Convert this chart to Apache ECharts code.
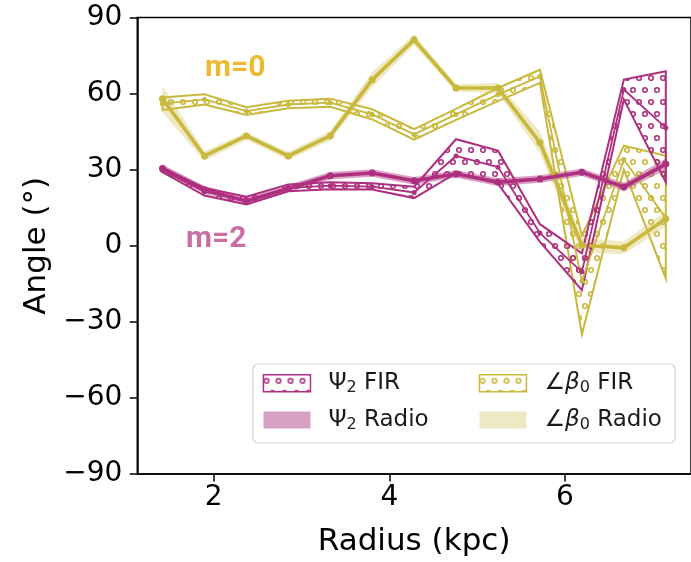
<!DOCTYPE html>
<html>
<head>
<meta charset="utf-8">
<script src="https://cdn.jsdelivr.net/npm/echarts@6/dist/echarts.min.js"></script>
<style>
  html, body { margin: 0; padding: 0; background: #fff; }
  #chart { width: 691px; height: 562px; }
</style>
</head>
<body>
<div id="chart"></div>
<script>
// Galactocentric radius of each ring (kpc)
const radius = [1.416, 1.894, 2.372, 2.849, 3.327, 3.805, 4.283, 4.760, 5.238, 5.716, 6.194, 6.672, 7.150];

// Psi_2 (m=2) from FIR: best value and lower/upper bounds (deg)
const psiFir   = [29.8, 21.3, 17.8, 22.8, 23.7, 23.3, 21.0, 35.4, 31.0, 5.0, -10.3, 61.6, 46.5];
const psiFirLo = [29.0, 19.8, 16.3, 21.5, 22.3, 22.2, 18.8, 28.6, 24.5, 1.5, -17.5, 57.7, 25.0];
const psiFirHi = [30.6, 22.8, 19.3, 24.2, 25.0, 24.6, 23.3, 42.0, 37.5, 8.5, -3.0, 65.5, 68.8];

// Psi_2 (m=2) from radio
const psiRad   = [30.5, 22.1, 17.6, 22.6, 27.6, 28.7, 25.6, 28.3, 25.1, 26.3, 29.0, 23.2, 32.2];
const psiRadLo = [29.0, 20.6, 16.1, 21.1, 26.1, 27.2, 24.1, 26.8, 23.6, 24.8, 27.5, 21.6, 30.0];
const psiRadHi = [32.0, 23.6, 19.1, 24.1, 29.1, 30.2, 27.1, 29.8, 26.6, 27.8, 30.5, 24.8, 34.4];

// angle of beta_0 (m=0) from FIR
const betaFir   = [56.0, 57.7, 53.1, 55.7, 56.4, 51.8, 43.9, 51.8, 59.6, 66.8, -14.0, 34.0, 11.0];
const betaFirLo = [53.5, 55.7, 51.6, 54.2, 54.8, 49.8, 41.8, 49.6, 57.0, 64.2, -35.0, 30.0, -13.0];
const betaFirHi = [58.5, 59.7, 54.6, 57.2, 58.0, 53.8, 46.0, 54.0, 62.2, 69.4, 4.0, 39.5, 35.5];

// angle of beta_0 (m=0) from radio
const betaRad   = [58.0, 35.4, 43.3, 35.4, 43.3, 65.5, 81.2, 62.2, 62.2, 40.7, 0.2, -0.8, 10.6];
const betaRadLo = [52.5, 33.5, 41.8, 33.8, 41.5, 62.5, 79.2, 60.7, 60.2, 36.5, -2.8, -3.3, 7.6];
const betaRadHi = [63.0, 37.3, 44.8, 37.0, 45.2, 68.5, 83.2, 63.7, 64.2, 45.0, 3.2, 1.7, 13.6];

const xTicks = [2, 4, 6];

const MAGENTA = '#AE2F7F';
const OLIVE = '#C8B83C';

// small tile of circles used as the 'o' hatch of the FIR bands
function hatchTile(color) {
  const c = document.createElement('canvas');
  c.width = 12; c.height = 24;
  const ctx = c.getContext('2d');
  ctx.strokeStyle = color;
  ctx.lineWidth = 1.6;
  [[3, 6], [9, 18]].forEach(function (p) {
    ctx.beginPath();
    ctx.arc(p[0], p[1], 2.3, 0, Math.PI * 2);
    ctx.stroke();
  });
  return c;
}
const psiHatch = { image: hatchTile(MAGENTA), repeat: 'repeat' };
const betaHatch = { image: hatchTile(OLIVE), repeat: 'repeat' };

// one filled polygon between the lower and upper bound curves
function bandSeries(name, lo, hi, style) {
  return {
    type: 'custom',
    name: name,
    silent: true,
    coordinateSystem: 'cartesian2d',
    data: radius.map(function (r, i) { return [r, lo[i], hi[i]]; }),
    encode: { x: 0, y: [1, 2] },
    renderItem: function (params, api) {
      if (params.dataIndex !== 0) return null;
      const pts = [];
      for (let i = 0; i < radius.length; i++) pts.push(api.coord([radius[i], hi[i]]));
      for (let i = radius.length - 1; i >= 0; i--) pts.push(api.coord([radius[i], lo[i]]));
      return { type: 'polygon', shape: { points: pts }, style: style };
    }
  };
}

function lineSeries(name, vals, color, width, size) {
  return {
    type: 'line',
    name: name,
    silent: true,
    data: radius.map(function (r, i) { return [r, vals[i]]; }),
    symbol: 'circle',
    symbolSize: size,
    showSymbol: true,
    itemStyle: { color: color },
    lineStyle: { color: color, width: width }
  };
}

const sub = { fontSize: 16, lineHeight: 14, verticalAlign: 'bottom', fontFamily: 'DejaVu Sans' };
const legendText = {
  fontFamily: 'DejaVu Sans',
  fontSize: 23,
  lineHeight: 26,
  color: '#1a1a1a',
  padding: [0, 0, 0, 13],
  rich: {
    t: { fontSize: 23, lineHeight: 26, fontFamily: 'DejaVu Sans', color: '#1a1a1a' },
    b: { fontSize: 23, lineHeight: 26, fontFamily: 'DejaVu Sans', fontStyle: 'italic', color: '#1a1a1a' },
    s: Object.assign({ color: '#1a1a1a' }, sub)
  }
};
const legendLabels = {
  'Ψ2 FIR': '{t|Ψ}{s|2}{t| FIR}',
  'Ψ2 Radio': '{t|Ψ}{s|2}{t| Radio}',
  '∠β0 FIR': '{t|∠}{b|β}{s|0}{t| FIR}',
  '∠β0 Radio': '{t|∠}{b|β}{s|0}{t| Radio}'
};
function fmtLegend(name) { return legendLabels[name]; }

const chart = echarts.init(document.getElementById('chart'), null, { renderer: 'canvas' });

chart.setOption({
  animation: false,
  backgroundColor: '#ffffff',
  grid: {
    left: 137.3, top: 17.5, width: 561.4, height: 459.2,
    show: true, borderColor: '#000', borderWidth: 1.5, backgroundColor: 'transparent'
  },
  xAxis: {
    type: 'value',
    min: 1.129, max: 7.437,
    name: 'Radius (kpc)',
    nameLocation: 'middle',
    nameGap: 52,
    nameTextStyle: { fontFamily: 'DejaVu Sans', fontSize: 31, color: '#000' },
    axisLine: { show: true, onZero: false, lineStyle: { color: '#000', width: 1.5 } },
    axisTick: { show: true, length: 7.5, lineStyle: { color: '#000', width: 1.5 }, customValues: xTicks },
    axisLabel: { margin: 10, fontFamily: 'DejaVu Sans', fontSize: 28, color: '#000', customValues: xTicks },
    splitLine: { show: false }
  },
  yAxis: {
    type: 'value',
    min: -90, max: 90, interval: 30,
    name: 'Angle (°)',
    nameLocation: 'middle',
    nameGap: 84,
    nameTextStyle: { fontFamily: 'DejaVu Sans', fontSize: 31, color: '#000' },
    axisLine: { show: true, onZero: false, lineStyle: { color: '#000', width: 1.5 } },
    axisTick: { show: true, length: 7.5, lineStyle: { color: '#000', width: 1.5 } },
    axisLabel: {
      margin: 15, fontFamily: 'DejaVu Sans', fontSize: 28, color: '#000',
      formatter: function (v) { return v < 0 ? '\u2212' + (-v) : String(v); }
    },
    splitLine: { show: false }
  },
  legend: [
    {
      orient: 'vertical', left: 262.7, top: 370.3, padding: 0,
      itemWidth: 47, itemHeight: 17, itemGap: 10.7,
      selectedMode: false,
      textStyle: legendText, formatter: fmtLegend,
      data: [
        { name: 'Ψ2 FIR', icon: 'rect', itemStyle: { color: psiHatch, borderColor: MAGENTA, borderWidth: 1.5 } },
        { name: 'Ψ2 Radio', icon: 'rect', itemStyle: { color: '#D6A0C2', borderWidth: 0 } }
      ]
    },
    {
      orient: 'vertical', left: 478.7, top: 370.3, padding: 0,
      itemWidth: 47, itemHeight: 17, itemGap: 10.7,
      selectedMode: false,
      textStyle: legendText, formatter: fmtLegend,
      data: [
        { name: '∠β0 FIR', icon: 'rect', itemStyle: { color: betaHatch, borderColor: OLIVE, borderWidth: 1.5 } },
        { name: '∠β0 Radio', icon: 'rect', itemStyle: { color: '#EFE8C4', borderWidth: 0 } }
      ]
    }
  ],
  graphic: [
    {
      type: 'rect', z: 3, silent: true,
      shape: { x: 253, y: 364, width: 422, height: 79, r: 5 },
      style: { fill: 'rgba(255,255,255,0.85)', stroke: '#d3d3d3', lineWidth: 1.2 }
    },
    {
      type: 'text', z: 5, silent: true, left: 205, top: 53,
      style: { text: 'm=0', font: 'bold 30px Roboto', fill: '#EDB92E' }
    },
    {
      type: 'text', z: 5, silent: true, left: 186, top: 224,
      style: { text: 'm=2', font: 'bold 30px Roboto', fill: '#C96FA5' }
    }
  ],
  series: [
    bandSeries('∠β0 FIR', betaFirLo, betaFirHi, { fill: betaHatch, stroke: OLIVE, lineWidth: 2 }),
    lineSeries('∠β0 FIR value', betaFir, OLIVE, 1.8, 5),
    bandSeries('∠β0 Radio', betaRadLo, betaRadHi, { fill: 'rgba(214,196,96,0.38)', stroke: 'none' }),
    lineSeries('∠β0 Radio value', betaRad, OLIVE, 3.6, 7),
    bandSeries('Ψ2 FIR', psiFirLo, psiFirHi, { fill: psiHatch, stroke: MAGENTA, lineWidth: 2 }),
    lineSeries('Ψ2 FIR value', psiFir, MAGENTA, 1.8, 5),
    bandSeries('Ψ2 Radio', psiRadLo, psiRadHi, { fill: 'rgba(174,47,127,0.45)', stroke: 'none' }),
    lineSeries('Ψ2 Radio value', psiRad, MAGENTA, 3.6, 7)
  ]
});
</script>
</body>
</html>
